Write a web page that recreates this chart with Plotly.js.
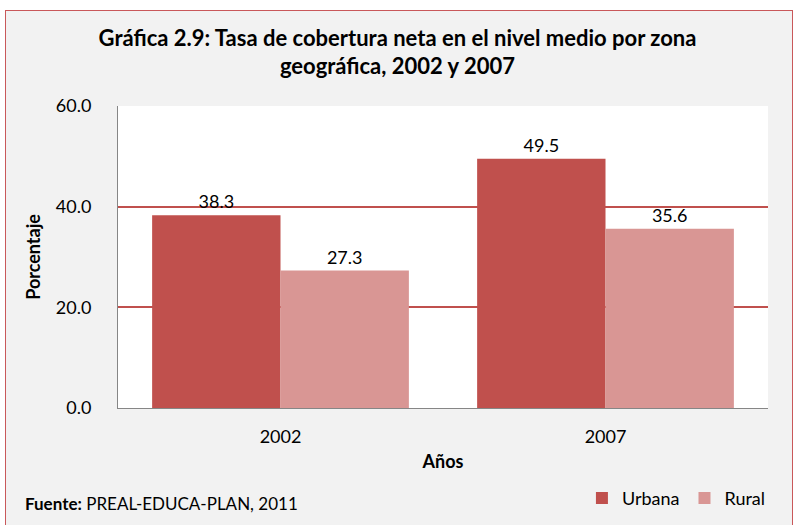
<!DOCTYPE html>
<html>
<head>
<meta charset="utf-8">
<script src="https://cdn.plot.ly/plotly-3.0.1.min.js"></script>
<style>
html,body{margin:0;padding:0;background:#fff;}
#frame{position:absolute;left:5px;top:10px;width:788px;height:520px;border:1.5px solid #C9585A;background:#F2F2F2;box-sizing:border-box;}
#chart{position:absolute;left:0;top:0;width:795px;height:525px;}
</style>
</head>
<body>
<div id="frame"></div>
<div id="chart"></div>
<script>
const years = ['2002', '2007'];
const urbana = [38.3, 49.5];
const rural = [27.3, 35.6];
const yTicks = [0, 20, 40, 60];
const yTickText = ['0.0', '20.0', '40.0', '60.0'];

const font = 'Lato, "Open Sans", sans-serif';

const traces = [
  {type:'bar', name:'Urbana', x:years, y:urbana, marker:{color:'#C0504D'},
   text:urbana.map(v=>v.toFixed(1)), textposition:'outside', cliponaxis:false,
   textfont:{size:18, color:'#000', family:font}},
  {type:'bar', name:'Rural', x:years, y:rural, marker:{color:'#D99694'},
   text:rural.map(v=>v.toFixed(1)), textposition:'outside', cliponaxis:false,
   textfont:{size:18, color:'#000', family:font}}
];

const layout = {
  width:795, height:525,
  paper_bgcolor:'rgba(0,0,0,0)', plot_bgcolor:'#FFFFFF',
  margin:{l:118, r:27, t:106, b:117},
  font:{family:font, size:18, color:'#000'},
  title:{text:'<b>Gráfica 2.9: Tasa de cobertura neta en el nivel medio por zona<br>geográfica, 2002 y 2007</b>',
         x:0.5, xanchor:'center', y:0.913, yanchor:'middle', font:{size:22, family:font, color:'#000'}},
  barmode:'group', bargap:0.21, bargroupgap:0,
  xaxis:{type:'category', showgrid:false, showline:true, linecolor:'#868686', linewidth:1,
         ticks:'', tickfont:{size:18}, ticklabelstandoff:12, automargin:false,
         title:{text:'<b>Años</b>', font:{size:18}, standoff:9}},
  yaxis:{range:[0,60], tickvals:yTicks, ticktext:yTickText, showgrid:true, gridcolor:'#C0504D', gridwidth:2,
         zeroline:false, showline:true, linecolor:'#868686', linewidth:1, ticks:'', ticklabelstandoff:22,
         automargin:false, tickfont:{size:18}, title:{text:'<b>Porcentaje</b>', font:{size:18}, standoff:10}},
  showlegend:true,
  legend:{orientation:'h', xref:'container', yref:'container', x:0.732, xanchor:'left', y:0.051, yanchor:'middle',
          font:{size:18}, bgcolor:'rgba(0,0,0,0)', itemwidth:30, tracegroupgap:0},
  annotations:[
    {xref:'paper', yref:'paper', x:-0.146, xanchor:'left', y:-0.315, yanchor:'middle', showarrow:false,
     text:'<b>Fuente:</b> PREAL-EDUCA-PLAN, 2011', font:{size:17, family:font}}
  ]
};

Plotly.newPlot('chart', traces, layout, {displayModeBar:false, staticPlot:true});
</script>
</body>
</html>
